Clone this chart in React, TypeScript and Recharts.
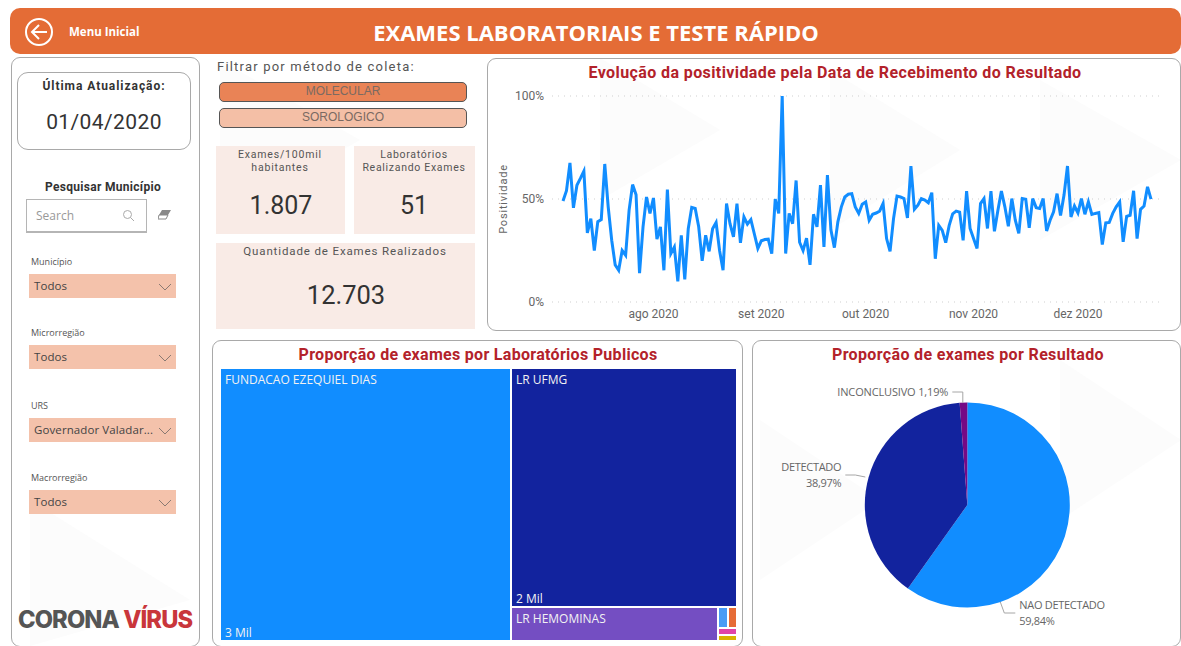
import React from "react";
import { LineChart, Line, XAxis, YAxis, CartesianGrid, PieChart, Pie, Cell, Treemap } from "recharts";

// Values (daily positivity, %), from early July to late December 2020
const positivity: number[] = [
  49, 54, 67.5, 45.7, 56.7, 60, 63.5, 33.5, 40.5, 25, 39, 40, 67, 46, 30, 18, 15.4, 25, 22.7, 44.6,
  57, 52, 14, 36.5, 51, 43, 50.5, 30.5, 36.5, 15.4, 54.6, 23.5, 26.7, 10, 32.4, 11, 35.6, 45.9, 45.4, 36.5,
  20, 32.4, 24.6, 35.6, 38.6, 25, 15.4, 47.8, 38, 31.6, 47.8, 28.7, 41.3, 37.8, 40, 33, 26, 29.7, 30.3, 30.5,
  23.5, 50, 43, 100, 23.5, 43, 38, 59, 29, 25, 31, 18, 42.6, 36.5, 56.7, 26.7, 61.6, 35, 26.4, 38.9,
  46.2, 51, 52.3, 52.6, 46.2, 43, 47.5, 48.6, 39.7, 42.6, 43.2, 44.1, 47.8, 30.8, 24.6, 40.5, 51.4, 51, 50.2, 40.8,
  66, 45, 47, 50.2, 49.5, 48.2, 53.1, 21, 37.2, 34.8, 28.8, 37.2, 42.8, 44.1, 43.6, 29.9, 53.8, 35.7, 30.8, 26,
  47.8, 50.2, 35.7, 53.8, 34.3, 44.5, 53.9, 46.2, 36.8, 50.2, 39.7, 33.3, 50.2, 49.9, 36, 50.2, 45.8, 45.4, 50.2, 34.5,
  39.7, 43.8, 52.6, 42, 51.9, 66, 41.3, 46.6, 43.2, 50.2, 42.6, 48.6, 42.5, 43, 43.4, 27.9, 38.4, 38.6, 43, 46.2,
  48.6, 29.2, 41.6, 42.1, 54, 30.8, 45, 46.6, 55.9, 49.9,
];
const monthTicks = [26, 57, 87, 118, 148];
const monthLabels = ["ago 2020", "set 2020", "out 2020", "nov 2020", "dez 2020"];
const percentTicks = [0, 50, 100];

const resultNames = ["NAO DETECTADO", "DETECTADO", "INCONCLUSIVO"];
const resultValues = [59.84, 38.97, 1.19];
const resultColors = ["#118DFF", "#12239E", "#750985"];

const labNames = ["FUNDACAO EZEQUIEL DIAS", "LR UFMG", "LR HEMOMINAS", "LAB A", "LAB B", "LAB C", "LAB D"];
const labValues = [3197, 2174, 283, 8.5, 7.6, 5.3, 4.6];
const labCaptions = ["3 Mil", "2 Mil", "", "", "", "", ""];
const labColors = ["#118DFF", "#12239E", "#744EC2", "#4A9CF5", "#E66C37", "#E044A7", "#D9B300"];

const slicers = [
  { label: "Município", value: "Todos", top: 274, labelTop: 255 },
  { label: "Microrregião", value: "Todos", top: 345, labelTop: 326 },
  { label: "URS", value: "Governador Valadar...", top: 418, labelTop: 399 },
  { label: "Macrorregião", value: "Todos", top: 490, labelTop: 471 },
];

const RED = "#B3222A";
const lineData = positivity.map((v, i) => ({ day: i, v }));
const pieData = resultNames.map((name, i) => ({ name, value: resultValues[i] }));
const treeData = labNames.map((name, i) => ({
  name,
  size: labValues[i],
  caption: labCaptions[i],
  color: labColors[i],
}));

const abs = (l: number, t: number, w: number, h: number, extra: React.CSSProperties = {}): React.CSSProperties => ({
  position: "absolute", left: l, top: t, width: w, height: h, boxSizing: "border-box", ...extra,
});

const Txt = ({ cx, y, size, children, color = "#444", weight = 400, spacing = 0, family = "Roboto" }: any) => (
  <div style={{
    position: "absolute", left: cx - 400, width: 800, top: y - size, lineHeight: `${size * 2}px`, textAlign: "center",
    fontSize: size, color, fontWeight: weight, letterSpacing: spacing, fontFamily: family, whiteSpace: "nowrap",
  }}>{children}</div>
);

const TreeCell = (props: any) => {
  const { x, y, width, height, name, caption, color, depth } = props;
  if (depth !== 1) return <g />;
  const big = width > 100;
  return (
    <g>
      <rect x={x} y={y} width={width} height={height} fill={color} stroke="#fff" strokeWidth={2} />
      {big && (
        <text x={x + 5} y={y + 16} fill="#F2F2F2" fontSize={12} fontFamily="'Open Sans'" stroke="none">{name}</text>
      )}
      {big && caption && (
        <text x={x + 5} y={y + height - 4} fill="#F2F2F2" fontSize={12} fontFamily="'Open Sans'" stroke="none">{caption}</text>
      )}
    </g>
  );
};

const pieLabelLayout = [
  { lines: [resultNames[0], "59,84%"], tx: 52, ty: 104, anchor: "start", path: [[33, 97], [37, 108], [48, 108]] },
  { lines: [resultNames[1], "38,97%"], tx: -126, ty: -34, anchor: "end", path: [[-102, -28], [-112, -30], [-122, -30]] },
  { lines: [resultNames[2] + " 1,19%"], tx: -19, ty: -109, anchor: "end", path: [[-4.5, -102], [-4.5, -113], [-15, -113]] },
];

const PieLabel = (props: any) => {
  const { cx, cy, index } = props;
  const l = pieLabelLayout[index];
  return (
    <g>
      <polyline points={l.path.map((p) => `${cx + p[0]},${cy + p[1]}`).join(" ")} fill="none" stroke="#A6A6A6" strokeWidth={1} />
      {l.lines.map((t, i) => (
        <text key={i} x={cx + l.tx} y={cy + l.ty + i * 15.5} textAnchor={l.anchor as any} fontSize={11} letterSpacing={index === 2 ? -0.15 : -0.3} fill="#666" fontFamily="'Open Sans'">{t}</text>
      ))}
    </g>
  );
};

const Chevron = ({ x, y }: { x: number; y: number }) => (
  <svg style={{ position: "absolute", left: x, top: y }} width={14} height={8}>
    <polyline points="1,1 7,7 13,1" fill="none" stroke="#8a7a72" strokeWidth={1} />
  </svg>
);

const panel: React.CSSProperties = { border: "1px solid #A9A9A9", borderRadius: 9, background: "transparent" };

export default function App() {
  return (
    <div style={{ position: "absolute", left: 0, top: 0, width: 1181, height: 646, overflow: "hidden", background: "#fff", fontFamily: "Roboto" }}>
      {/* faint watermark */}
      <svg style={{ position: "absolute", left: 0, top: 0 }} width={1181} height={646}>
        <g fill="#FCFCFC">
          <polygon points="600,58 720,130 600,200" />
          <polygon points="830,70 960,150 830,230" />
          <polygon points="1040,80 1181,160 1040,240" />
          <polygon points="220,60 360,140 220,220" />
          <polygon points="30,500 190,600 30,646" />
          <polygon points="760,420 880,500 760,580" />
          <polygon points="1060,360 1181,440 1060,520" />
        </g>
      </svg>

      {/* header */}
      <div style={abs(10, 8, 1171, 46, { background: "#E46C36", borderRadius: 10 })} />
      <svg style={{ position: "absolute", left: 24, top: 17 }} width={30} height={30}>
        <circle cx={15} cy={15} r={13} fill="none" stroke="#fff" strokeWidth={2} />
        <polyline points="15,8 8,15 15,22" fill="none" stroke="#fff" strokeWidth={2} />
        <line x1={8} y1={15} x2={23} y2={15} stroke="#fff" strokeWidth={2} />
      </svg>
      <div style={{ position: "absolute", left: 69, top: 24, fontSize: 11.5, lineHeight: "16px", fontWeight: 700, color: "#fff", fontFamily: "'Open Sans'" }}>Menu Inicial</div>
      <Txt cx={596} y={32} size={22} color="#fff" weight={700} family="'Open Sans'">EXAMES LABORATORIAIS E TESTE RÁPIDO</Txt>

      {/* left panel */}
      <div style={abs(11, 57, 189, 590, panel)} />
      <div style={abs(17, 72, 174, 78, { ...panel, borderRadius: 11 })} />
      <Txt cx={104} y={86} size={12} weight={700} spacing={0.95} color="#333">Última Atualização:</Txt>
      <Txt cx={104} y={122} size={21} spacing={0.4} color="#333">01/04/2020</Txt>
      <Txt cx={103} y={187} size={12} weight={700} spacing={0.3} color="#333">Pesquisar Município</Txt>
      <div style={abs(26, 199, 121, 34, { border: "1px solid #B5B5B5", borderBottom: "2px solid #B5B5B5", background: "#fff" })} />
      <div style={{ position: "absolute", left: 36, top: 208, fontSize: 12, lineHeight: "16px", color: "#999", fontFamily: "'Open Sans'" }}>Search</div>
      <svg style={{ position: "absolute", left: 122, top: 209 }} width={14} height={14}>
        <circle cx={5.5} cy={5.5} r={4} fill="none" stroke="#aaa" />
        <line x1={8.5} y1={8.5} x2={12} y2={12} stroke="#aaa" />
      </svg>
      <svg style={{ position: "absolute", left: 158, top: 209 }} width={14} height={12}>
        <polygon points="4,1 13,1 10,6 1,6" fill="#888" />
        <polygon points="1,6 10,6 8,10 0,10" fill="none" stroke="#888" />
      </svg>
      {slicers.map((s) => (
        <React.Fragment key={s.label}>
          <div style={{ position: "absolute", left: 31, top: s.labelTop, fontSize: 9, lineHeight: "14px", color: "#555", fontFamily: "'Open Sans'" }}>{s.label}</div>
          <div style={abs(29, s.top, 147, 23.5, { background: "#F4C2AB" })} />
          <div style={{ position: "absolute", left: 34, top: s.top + 4, fontSize: 11.5, lineHeight: "16px", color: "#444", letterSpacing: 0.1, fontFamily: "'Open Sans'", whiteSpace: "nowrap" }}>{s.value}</div>
          <Chevron x={158} y={s.top + 9} />
        </React.Fragment>
      ))}
      <div style={{ position: "absolute", left: 18, top: 604, fontSize: 23.7, lineHeight: "32px", fontWeight: 800, letterSpacing: -0.9, fontFamily: "Inter", color: "#555", whiteSpace: "nowrap" }}>
        CORONA <span style={{ color: "#C9363B" }}>VÍRUS</span>
      </div>

      {/* filter + KPIs */}
      <div style={{ position: "absolute", left: 217, top: 59, fontSize: 13, lineHeight: "16px", color: "#555", letterSpacing: 1.2, whiteSpace: "nowrap" }}>Filtrar por método de coleta:</div>
      <div style={abs(219, 82, 248, 20, { background: "#E98356", border: "1.5px solid #555", borderRadius: 5, textAlign: "center", fontSize: 12, lineHeight: "17px", color: "#7a6a62", fontFamily: "Liberation Sans" })}>MOLECULAR</div>
      <div style={abs(219, 108, 248, 20, { background: "#F4BFA6", border: "1.5px solid #555", borderRadius: 5, textAlign: "center", fontSize: 12, lineHeight: "17px", color: "#7a6a62", fontFamily: "Liberation Sans" })}>SOROLOGICO</div>
      <div style={abs(216, 146, 129, 88, { background: "#F9EBE6" })} />
      <div style={abs(354, 146, 121, 88, { background: "#F9EBE6" })} />
      <div style={abs(216, 243, 259, 86, { background: "#F9EBE6" })} />
      <Txt cx={280} y={154} size={10.5} spacing={0.8} color="#555">Exames/100mil</Txt>
      <Txt cx={280} y={167} size={10.5} spacing={0.8} color="#555">habitantes</Txt>
      <Txt cx={414} y={154} size={10.5} spacing={0.7} color="#555">Laboratórios</Txt>
      <Txt cx={414} y={167} size={10.5} spacing={0.7} color="#555">Realizando Exames</Txt>
      <Txt cx={281} y={206} size={25} color="#333">1.807</Txt>
      <Txt cx={414} y={206} size={25} color="#333">51</Txt>
      <Txt cx={345} y={251} size={11.5} spacing={0.87} color="#555">Quantidade de Exames Realizados</Txt>
      <Txt cx={346} y={295} size={25.5} color="#333">12.703</Txt>

      {/* line panel */}
      <div style={abs(487, 58, 694, 273, panel)} />
      <Txt cx={835} y={73} size={16} weight={700} color={RED} spacing={0.4}>Evolução da positividade pela Data de Recebimento do Resultado</Txt>
      <div style={{ position: "absolute", left: 487, top: 59 }}>
        <LineChart width={694} height={272} data={lineData} margin={{ top: 37, right: 21, bottom: 0, left: 0 }}>
          <CartesianGrid horizontal vertical={false} stroke="#CFCFCF" strokeDasharray="1 5" />
          <XAxis
            dataKey="day" type="number" domain={[0, 169]} ticks={monthTicks} padding={{ left: 11, right: 9 }} height={29}
            tickFormatter={(d: number) => monthLabels[monthTicks.indexOf(d)]} axisLine={false} tickLine={false}
            interval={0} tick={{ fontSize: 12, fill: "#666", fontFamily: "Roboto" }} tickMargin={1}
          />
          <YAxis
            domain={[0, 100]} ticks={percentTicks} tickFormatter={(v: number) => `${v}%`} width={65} axisLine={false} tickLine={false}
            tick={{ fontSize: 12, fill: "#666", fontFamily: "Roboto" }}
            label={{ value: "Positividade", angle: -90, position: "insideLeft", offset: 16, style: { fontSize: 11, fill: "#666", textAnchor: "middle", letterSpacing: 0.8 } }}
          />
          <Line dataKey="v" type="linear" stroke="#118DFF" strokeWidth={3} dot={false} isAnimationActive={false} />
        </LineChart>
      </div>

      {/* treemap panel */}
      <div style={abs(212, 340, 531, 307, panel)} />
      <Txt cx={478} y={355} size={16} weight={700} color={RED} spacing={0.3}>Proporção de exames por Laboratórios Publicos</Txt>
      <div style={{ position: "absolute", left: 220, top: 368 }}>
        <Treemap width={517} height={273} data={treeData} dataKey="size" nameKey="name" isAnimationActive={false} content={<TreeCell />} />
      </div>

      {/* pie panel */}
      <div style={abs(752, 340, 429, 307, panel)} />
      <Txt cx={968} y={355} size={16} weight={700} color={RED} spacing={0.35}>Proporção de exames por Resultado</Txt>
      <div style={{ position: "absolute", left: 753, top: 341 }}>
        <PieChart width={427} height={304} margin={{ top: 0, right: 0, bottom: 0, left: 0 }}>
          <Pie
            data={pieData} dataKey="value" nameKey="name" cx={214.3} cy={164} outerRadius={102.5} innerRadius={0}
            startAngle={90} endAngle={-270} stroke="none" isAnimationActive={false} label={<PieLabel />} labelLine={false}
          >
            {pieData.map((d, i) => <Cell key={d.name} fill={resultColors[i]} />)}
          </Pie>
        </PieChart>
      </div>
    </div>
  );
}
